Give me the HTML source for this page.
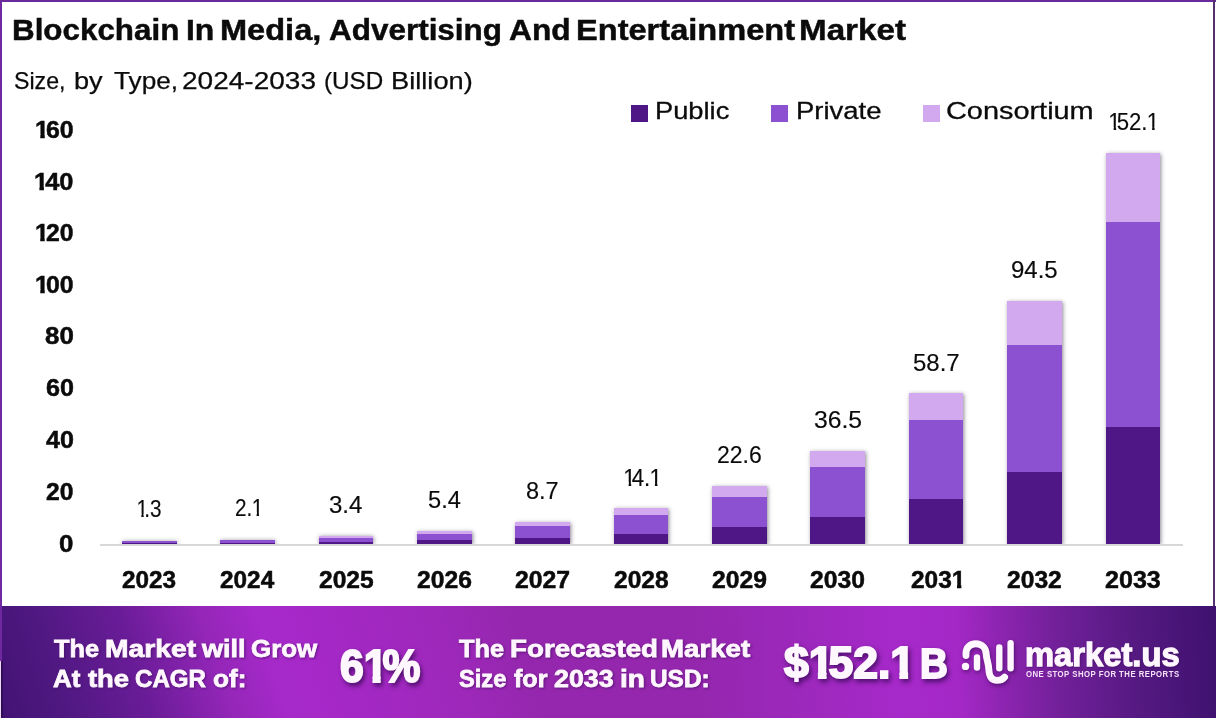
<!DOCTYPE html>
<html><head><meta charset="utf-8"><title>Blockchain In Media, Advertising And Entertainment Market</title>
<style>
html,body{margin:0;padding:0;}
body{width:1216px;height:718px;position:relative;overflow:hidden;background:#fff;font-family:"Liberation Sans",sans-serif;}
.t{position:absolute;white-space:nowrap;transform-origin:0 0;margin:0;padding:0;}
.o{display:inline-block;}
.s1{filter:drop-shadow(1px 1.5px 1.2px rgba(60,10,90,.6));}
.s2{filter:drop-shadow(2.5px 3.5px 2.5px rgba(50,6,80,.75));}
.bl{position:absolute;left:0;top:0;width:2px;height:718px;background:#6f289f;}
.bl2{position:absolute;left:0;top:661px;width:1px;height:57px;background:#f1d6f6;}
.bl3{position:absolute;left:1px;top:661px;width:1.5px;height:57px;background:#2f0e58;}
.bt{position:absolute;left:0;top:0;width:1216px;height:2px;background:#6b2a9b;}
.br{position:absolute;left:1213px;top:0;width:2px;height:606px;background:#553070;}
.bar{position:absolute;box-shadow:0.6px 0.5px 4px rgba(45,35,60,.55);clip-path:inset(-8px -8px 0 -8px);}
.bar i{display:block;width:100%;}
.axis{position:absolute;left:100px;top:544px;width:1082.5px;height:1.7px;background:#d8d8d8;}
.sw{position:absolute;top:105.3px;width:16.5px;height:16.3px;}
.banner{position:absolute;left:0;top:606px;width:608px;height:112px;
 background:linear-gradient(72deg,#431374 3.7px,#4e1880 60.8px,#6a1c98 146.4px,#9426b8 222.4px,#a629c9 274.7px,#a528c7 317.5px,#9f28bc 431.7px,#9527ae 517.2px,#9527ae 582px);}
.banner2{position:absolute;left:608px;top:606px;width:608px;height:112px;
 background:linear-gradient(87deg,#9527ae 0px,#9527ae 92px,#9a28b8 162px,#a629c9 292px,#a428c6 352px,#8a24ae 402px,#72209a 452px,#581a84 522px,#3f1270 608px);}
</style></head><body>
<div class="banner"></div><div class="banner2"></div>
<div class="bl"></div><div class="bt"></div><div class="br"></div><div class="bl2"></div><div class="bl3"></div>
<div class="axis"></div>
<div class="sw" style="left:631.1px;background:#4e1785"></div>
<div class="sw" style="left:771.2px;background:#8b51d1"></div>
<div class="sw" style="left:923px;background:#d2a9ef"></div>
<div class="bar" style="left:122.00px;top:540.80px;width:54.6px;height:3.20px;"><i style="height:0.61px;background:#d2a9ef"></i><i style="height:1.68px;background:#8b51d1"></i><i style="height:0.91px;background:#4e1785"></i></div>
<div class="bar" style="left:220.35px;top:539.60px;width:54.6px;height:4.40px;"><i style="height:0.84px;background:#d2a9ef"></i><i style="height:2.31px;background:#8b51d1"></i><i style="height:1.25px;background:#4e1785"></i></div>
<div class="bar" style="left:318.70px;top:536.00px;width:54.6px;height:8.00px;"><i style="height:1.52px;background:#d2a9ef"></i><i style="height:4.20px;background:#8b51d1"></i><i style="height:2.28px;background:#4e1785"></i></div>
<div class="bar" style="left:417.05px;top:531.20px;width:54.6px;height:12.80px;"><i style="height:2.43px;background:#d2a9ef"></i><i style="height:6.72px;background:#8b51d1"></i><i style="height:3.65px;background:#4e1785"></i></div>
<div class="bar" style="left:515.40px;top:522.30px;width:54.6px;height:21.70px;"><i style="height:4.20px;background:#d2a9ef"></i><i style="height:11.40px;background:#8b51d1"></i><i style="height:6.10px;background:#4e1785"></i></div>
<div class="bar" style="left:613.75px;top:507.80px;width:54.6px;height:36.20px;"><i style="height:7.40px;background:#d2a9ef"></i><i style="height:18.80px;background:#8b51d1"></i><i style="height:10.00px;background:#4e1785"></i></div>
<div class="bar" style="left:712.10px;top:485.90px;width:54.6px;height:58.10px;"><i style="height:11.10px;background:#d2a9ef"></i><i style="height:30.00px;background:#8b51d1"></i><i style="height:17.00px;background:#4e1785"></i></div>
<div class="bar" style="left:810.45px;top:450.80px;width:54.6px;height:93.20px;"><i style="height:15.80px;background:#d2a9ef"></i><i style="height:50.60px;background:#8b51d1"></i><i style="height:26.80px;background:#4e1785"></i></div>
<div class="bar" style="left:908.80px;top:393.20px;width:54.6px;height:150.80px;"><i style="height:26.40px;background:#d2a9ef"></i><i style="height:79.40px;background:#8b51d1"></i><i style="height:45.00px;background:#4e1785"></i></div>
<div class="bar" style="left:1007.15px;top:301.30px;width:54.6px;height:242.70px;"><i style="height:43.80px;background:#d2a9ef"></i><i style="height:126.70px;background:#8b51d1"></i><i style="height:72.20px;background:#4e1785"></i></div>
<div class="bar" style="left:1105.50px;top:153.30px;width:54.6px;height:390.70px;"><i style="height:69.00px;background:#d2a9ef"></i><i style="height:205.00px;background:#8b51d1"></i><i style="height:116.70px;background:#4e1785"></i></div>
<svg style="position:absolute;left:0;top:0;filter:drop-shadow(1.5px 2.5px 2px rgba(55,8,85,.65));" width="1216" height="718" viewBox="0 0 1216 718">
<g fill="none" stroke="#fff7fe" stroke-width="6.9" stroke-linecap="round" stroke-linejoin="round">
<path d="M966 655.5 L966 653.5 C966 640.4 985.7 640.4 986.2 654 C986.5 660 988.6 663 988.8 669 C989.1 677 992 680.4 997 680.4 C1000.5 680.4 1003 679.3 1004.6 677.2"/>
<path d="M977 657.5 L977 667.5" stroke-width="6.4"/>
<path d="M999.3 647.5 L999.3 668.3" stroke-width="6.4"/>
<path d="M1010.6 643.3 L1010.6 668.3" stroke-width="6.4"/>
</g>
<circle cx="965.5" cy="666.4" r="3.7" fill="#fff7fe"/>
</svg>
<div class="t" style="left:11.83px;top:15.94px;font-size:28.57px;line-height:28.57px;font-weight:700;color:#0b0b0b;transform:scaleX(1.0981);-webkit-text-stroke:0.45px currentColor;">Blockchain</div>
<div class="t" style="left:185.60px;top:15.64px;font-size:28.57px;line-height:28.57px;font-weight:700;color:#0b0b0b;transform:scaleX(1.1173);-webkit-text-stroke:0.45px currentColor;">In</div>
<div class="t" style="left:219.80px;top:15.64px;font-size:28.57px;line-height:28.57px;font-weight:700;color:#0b0b0b;transform:scaleX(1.1396);-webkit-text-stroke:0.45px currentColor;">Media,</div>
<div class="t" style="left:329.20px;top:15.73px;font-size:28.57px;line-height:28.57px;font-weight:700;color:#0b0b0b;transform:scaleX(1.1012);-webkit-text-stroke:0.45px currentColor;">Advertising</div>
<div class="t" style="left:508.94px;top:15.83px;font-size:28.57px;line-height:28.57px;font-weight:700;color:#0b0b0b;transform:scaleX(1.1108);-webkit-text-stroke:0.45px currentColor;">And</div>
<div class="t" style="left:575.99px;top:15.64px;font-size:28.57px;line-height:28.57px;font-weight:700;color:#0b0b0b;transform:scaleX(1.1410);-webkit-text-stroke:0.45px currentColor;">Entertainment</div>
<div class="t" style="left:799.37px;top:15.94px;font-size:28.57px;line-height:28.57px;font-weight:700;color:#0b0b0b;transform:scaleX(1.1623);-webkit-text-stroke:0.45px currentColor;">Market</div>
<div class="t" style="left:14.18px;top:68.68px;font-size:24.50px;line-height:24.50px;font-weight:400;color:#0b0b0b;transform:scaleX(0.9455);-webkit-text-stroke:0.25px currentColor;">Size,</div>
<div class="t" style="left:73.92px;top:68.63px;font-size:24.50px;line-height:24.50px;font-weight:400;color:#0b0b0b;transform:scaleX(1.1074);-webkit-text-stroke:0.25px currentColor;">by</div>
<div class="t" style="left:113.65px;top:68.98px;font-size:24.50px;line-height:24.50px;font-weight:400;color:#0b0b0b;transform:scaleX(1.0693);-webkit-text-stroke:0.25px currentColor;">Type,</div>
<div class="t" style="left:182.04px;top:68.58px;font-size:24.50px;line-height:24.50px;font-weight:400;color:#0b0b0b;transform:scaleX(1.1436);-webkit-text-stroke:0.25px currentColor;">2024-2033</div>
<div class="t" style="left:324.09px;top:68.58px;font-size:24.50px;line-height:24.50px;font-weight:400;color:#0b0b0b;transform:scaleX(0.9882);-webkit-text-stroke:0.25px currentColor;">(USD</div>
<div class="t" style="left:391.04px;top:68.58px;font-size:24.50px;line-height:24.50px;font-weight:400;color:#0b0b0b;transform:scaleX(1.1125);-webkit-text-stroke:0.25px currentColor;">Billion)</div>
<div class="t" style="left:34.88px;top:118.00px;font-size:24.75px;line-height:24.75px;font-weight:700;color:#0b0b0b;transform:scaleX(1.0050);-webkit-text-stroke:0.5px currentColor;"><span class="o" style="clip-path:polygon(0 0,0.6em 0,0.6em 0.6536em,0.3908em 0.6536em,0.3908em 1.1em,0.2132em 1.1em,0.2132em 0.6536em,0 0.6536em);margin:0 -0.115em 0 0em">1</span>60</div>
<div class="t" style="left:34.02px;top:170.30px;font-size:24.75px;line-height:24.75px;font-weight:700;color:#0b0b0b;transform:scaleX(1.0261);-webkit-text-stroke:0.5px currentColor;"><span class="o" style="clip-path:polygon(0 0,0.6em 0,0.6em 0.6536em,0.3908em 0.6536em,0.3908em 1.1em,0.2132em 1.1em,0.2132em 0.6536em,0 0.6536em);margin:0 -0.115em 0 0em">1</span>40</div>
<div class="t" style="left:35.13px;top:221.04px;font-size:24.75px;line-height:24.75px;font-weight:700;color:#0b0b0b;transform:scaleX(1.0002);-webkit-text-stroke:0.5px currentColor;"><span class="o" style="clip-path:polygon(0 0,0.6em 0,0.6em 0.6536em,0.3908em 0.6536em,0.3908em 1.1em,0.2132em 1.1em,0.2132em 0.6536em,0 0.6536em);margin:0 -0.115em 0 0em">1</span>20</div>
<div class="t" style="left:34.88px;top:273.20px;font-size:24.75px;line-height:24.75px;font-weight:700;color:#0b0b0b;transform:scaleX(1.0050);-webkit-text-stroke:0.5px currentColor;"><span class="o" style="clip-path:polygon(0 0,0.6em 0,0.6em 0.6536em,0.3908em 0.6536em,0.3908em 1.1em,0.2132em 1.1em,0.2132em 0.6536em,0 0.6536em);margin:0 -0.115em 0 0em">1</span>00</div>
<div class="t" style="left:45.07px;top:324.29px;font-size:24.75px;line-height:24.75px;font-weight:700;color:#0b0b0b;transform:scaleX(1.0481);-webkit-text-stroke:0.5px currentColor;">80</div>
<div class="t" style="left:45.88px;top:375.95px;font-size:24.75px;line-height:24.75px;font-weight:700;color:#0b0b0b;transform:scaleX(1.0167);-webkit-text-stroke:0.5px currentColor;">60</div>
<div class="t" style="left:45.94px;top:427.90px;font-size:24.75px;line-height:24.75px;font-weight:700;color:#0b0b0b;transform:scaleX(1.0148);-webkit-text-stroke:0.5px currentColor;">40</div>
<div class="t" style="left:45.78px;top:479.55px;font-size:24.75px;line-height:24.75px;font-weight:700;color:#0b0b0b;transform:scaleX(0.9981);-webkit-text-stroke:0.5px currentColor;">20</div>
<div class="t" style="left:59.24px;top:531.71px;font-size:24.75px;line-height:24.75px;font-weight:700;color:#0b0b0b;transform:scaleX(1.0459);-webkit-text-stroke:0.5px currentColor;">0</div>
<div class="t" style="left:655.40px;top:99.41px;font-size:24.14px;line-height:24.14px;font-weight:400;color:#0b0b0b;transform:scaleX(1.1306);-webkit-text-stroke:0.3px currentColor;">Public</div>
<div class="t" style="left:795.71px;top:99.06px;font-size:24.14px;line-height:24.14px;font-weight:400;color:#0b0b0b;transform:scaleX(1.1391);-webkit-text-stroke:0.3px currentColor;">Private</div>
<div class="t" style="left:945.63px;top:99.41px;font-size:24.14px;line-height:24.14px;font-weight:400;color:#0b0b0b;transform:scaleX(1.1972);-webkit-text-stroke:0.3px currentColor;">Consortium</div>
<div class="t" style="left:136.90px;top:497.20px;font-size:24.01px;line-height:24.01px;font-weight:400;color:#0b0b0b;transform:scaleX(0.8617);-webkit-text-stroke:0.15px currentColor;"><span class="o" style="clip-path:polygon(0 0,0.6em 0,0.6em 0.6854em,0.3533em 0.6854em,0.3533em 1.1em,0.2380em 1.1em,0.2380em 0.6854em,0 0.6854em);margin:0 -0.18em 0 -0.03em">1</span>.3</div>
<div class="t" style="left:122.18px;top:567.62px;font-size:24.43px;line-height:24.43px;font-weight:700;color:#0b0b0b;transform:scaleX(0.9958);-webkit-text-stroke:0.5px currentColor;">2023</div>
<div class="t" style="left:234.79px;top:495.60px;font-size:24.01px;line-height:24.01px;font-weight:400;color:#0b0b0b;transform:scaleX(0.8631);-webkit-text-stroke:0.15px currentColor;">2.<span class="o" style="clip-path:polygon(0 0,0.6em 0,0.6em 0.6854em,0.3533em 0.6854em,0.3533em 1.1em,0.2380em 1.1em,0.2380em 0.6854em,0 0.6854em);margin:0 -0.18em 0 -0.03em">1</span></div>
<div class="t" style="left:220.06px;top:567.92px;font-size:24.43px;line-height:24.43px;font-weight:700;color:#0b0b0b;transform:scaleX(0.9971);-webkit-text-stroke:0.5px currentColor;">2024</div>
<div class="t" style="left:328.79px;top:492.60px;font-size:24.01px;line-height:24.01px;font-weight:400;color:#0b0b0b;transform:scaleX(1.0018);-webkit-text-stroke:0.15px currentColor;">3.4</div>
<div class="t" style="left:318.98px;top:567.62px;font-size:24.43px;line-height:24.43px;font-weight:700;color:#0b0b0b;transform:scaleX(1.0076);-webkit-text-stroke:0.5px currentColor;">2025</div>
<div class="t" style="left:427.97px;top:487.80px;font-size:24.01px;line-height:24.01px;font-weight:400;color:#0b0b0b;transform:scaleX(0.9867);-webkit-text-stroke:0.15px currentColor;">5.4</div>
<div class="t" style="left:416.68px;top:567.62px;font-size:24.43px;line-height:24.43px;font-weight:700;color:#0b0b0b;transform:scaleX(1.0105);-webkit-text-stroke:0.5px currentColor;">2026</div>
<div class="t" style="left:526.47px;top:478.60px;font-size:24.01px;line-height:24.01px;font-weight:400;color:#0b0b0b;transform:scaleX(0.9795);-webkit-text-stroke:0.15px currentColor;">8.7</div>
<div class="t" style="left:514.95px;top:567.51px;font-size:24.43px;line-height:24.43px;font-weight:700;color:#0b0b0b;transform:scaleX(1.0142);-webkit-text-stroke:0.5px currentColor;">2027</div>
<div class="t" style="left:623.60px;top:465.70px;font-size:24.01px;line-height:24.01px;font-weight:400;color:#0b0b0b;transform:scaleX(0.9267);-webkit-text-stroke:0.15px currentColor;"><span class="o" style="clip-path:polygon(0 0,0.6em 0,0.6em 0.6854em,0.3533em 0.6854em,0.3533em 1.1em,0.2380em 1.1em,0.2380em 0.6854em,0 0.6854em);margin:0 -0.18em 0 -0.03em">1</span>4.<span class="o" style="clip-path:polygon(0 0,0.6em 0,0.6em 0.6854em,0.3533em 0.6854em,0.3533em 1.1em,0.2380em 1.1em,0.2380em 0.6854em,0 0.6854em);margin:0 -0.18em 0 -0.03em">1</span></div>
<div class="t" style="left:613.64px;top:567.92px;font-size:24.43px;line-height:24.43px;font-weight:700;color:#0b0b0b;transform:scaleX(1.0070);-webkit-text-stroke:0.5px currentColor;">2028</div>
<div class="t" style="left:716.65px;top:442.60px;font-size:24.01px;line-height:24.01px;font-weight:400;color:#0b0b0b;transform:scaleX(0.9594);-webkit-text-stroke:0.15px currentColor;">22.6</div>
<div class="t" style="left:711.80px;top:567.81px;font-size:24.43px;line-height:24.43px;font-weight:700;color:#0b0b0b;transform:scaleX(1.0121);-webkit-text-stroke:0.5px currentColor;">2029</div>
<div class="t" style="left:813.99px;top:408.00px;font-size:24.01px;line-height:24.01px;font-weight:400;color:#0b0b0b;transform:scaleX(1.0300);-webkit-text-stroke:0.15px currentColor;">36.5</div>
<div class="t" style="left:810.48px;top:567.62px;font-size:24.43px;line-height:24.43px;font-weight:700;color:#0b0b0b;transform:scaleX(1.0118);-webkit-text-stroke:0.5px currentColor;">2030</div>
<div class="t" style="left:912.75px;top:351.00px;font-size:24.01px;line-height:24.01px;font-weight:400;color:#0b0b0b;transform:scaleX(0.9988);-webkit-text-stroke:0.15px currentColor;">58.7</div>
<div class="t" style="left:911.04px;top:567.92px;font-size:24.43px;line-height:24.43px;font-weight:700;color:#0b0b0b;transform:scaleX(1.0008);-webkit-text-stroke:0.5px currentColor;">203<span class="o" style="clip-path:polygon(0 0,0.6em 0,0.6em 0.6524em,0.3911em 0.6524em,0.3911em 1.1em,0.2129em 1.1em,0.2129em 0.6524em,0 0.6524em);margin:0 -0.115em 0 0em">1</span></div>
<div class="t" style="left:1011.12px;top:258.40px;font-size:24.01px;line-height:24.01px;font-weight:400;color:#0b0b0b;transform:scaleX(0.9997);-webkit-text-stroke:0.15px currentColor;">94.5</div>
<div class="t" style="left:1006.96px;top:567.51px;font-size:24.43px;line-height:24.43px;font-weight:700;color:#0b0b0b;transform:scaleX(1.0091);-webkit-text-stroke:0.5px currentColor;">2032</div>
<div class="t" style="left:1108.71px;top:110.20px;font-size:24.01px;line-height:24.01px;font-weight:400;color:#0b0b0b;transform:scaleX(0.9233);-webkit-text-stroke:0.15px currentColor;"><span class="o" style="clip-path:polygon(0 0,0.6em 0,0.6em 0.6854em,0.3533em 0.6854em,0.3533em 1.1em,0.2380em 1.1em,0.2380em 0.6854em,0 0.6854em);margin:0 -0.18em 0 -0.03em">1</span>52.<span class="o" style="clip-path:polygon(0 0,0.6em 0,0.6em 0.6854em,0.3533em 0.6854em,0.3533em 1.1em,0.2380em 1.1em,0.2380em 0.6854em,0 0.6854em);margin:0 -0.18em 0 -0.03em">1</span></div>
<div class="t" style="left:1105.20px;top:567.92px;font-size:24.43px;line-height:24.43px;font-weight:700;color:#0b0b0b;transform:scaleX(1.0273);-webkit-text-stroke:0.5px currentColor;">2033</div>
<div class="t s1" style="left:54.29px;top:637.13px;font-size:24.57px;line-height:24.57px;font-weight:700;color:#fff7fe;transform:scaleX(1.0316);-webkit-text-stroke:0.8px currentColor;">The</div>
<div class="t s1" style="left:104.58px;top:637.20px;font-size:24.57px;line-height:24.57px;font-weight:700;color:#fff7fe;transform:scaleX(1.1518);-webkit-text-stroke:0.8px currentColor;">Market</div>
<div class="t s1" style="left:201.54px;top:636.93px;font-size:24.57px;line-height:24.57px;font-weight:700;color:#fff7fe;transform:scaleX(1.1029);-webkit-text-stroke:0.8px currentColor;">will</div>
<div class="t s1" style="left:251.23px;top:637.47px;font-size:24.57px;line-height:24.57px;font-weight:700;color:#fff7fe;transform:scaleX(1.0536);-webkit-text-stroke:0.8px currentColor;">Grow</div>
<div class="t s1" style="left:53.13px;top:667.03px;font-size:24.14px;line-height:24.14px;font-weight:700;color:#fff7fe;transform:scaleX(1.0732);-webkit-text-stroke:0.8px currentColor;">At</div>
<div class="t s1" style="left:88.35px;top:667.20px;font-size:24.14px;line-height:24.14px;font-weight:700;color:#fff7fe;transform:scaleX(1.1353);-webkit-text-stroke:0.8px currentColor;">the</div>
<div class="t s1" style="left:135.26px;top:666.87px;font-size:24.14px;line-height:24.14px;font-weight:700;color:#fff7fe;transform:scaleX(0.9988);-webkit-text-stroke:0.8px currentColor;">CAGR</div>
<div class="t s1" style="left:213.41px;top:667.03px;font-size:24.14px;line-height:24.14px;font-weight:700;color:#fff7fe;transform:scaleX(1.0852);-webkit-text-stroke:0.8px currentColor;">of:</div>
<div class="t s2" style="left:339.98px;top:644.42px;font-size:45.57px;line-height:45.57px;font-weight:700;color:#fff7fe;transform:scaleX(0.9360);-webkit-text-stroke:2.0px currentColor;">6<span class="o" style="clip-path:polygon(0 0,0.6em 0,0.6em 0.6787em,0.3980em 0.6787em,0.3980em 1.1em,0.2060em 1.1em,0.2060em 0.6787em,0 0.6787em);margin:0 -0.115em 0 0em">1</span>%</div>
<div class="t s1" style="left:458.96px;top:636.93px;font-size:24.57px;line-height:24.57px;font-weight:700;color:#fff7fe;transform:scaleX(1.0314);-webkit-text-stroke:0.8px currentColor;">The</div>
<div class="t s1" style="left:510.15px;top:637.13px;font-size:24.57px;line-height:24.57px;font-weight:700;color:#fff7fe;transform:scaleX(1.1294);-webkit-text-stroke:0.8px currentColor;">Forecasted</div>
<div class="t s1" style="left:660.85px;top:636.93px;font-size:24.57px;line-height:24.57px;font-weight:700;color:#fff7fe;transform:scaleX(1.1269);-webkit-text-stroke:0.8px currentColor;">Market</div>
<div class="t s1" style="left:458.84px;top:667.03px;font-size:24.14px;line-height:24.14px;font-weight:700;color:#fff7fe;transform:scaleX(0.9815);-webkit-text-stroke:0.8px currentColor;">Size</div>
<div class="t s1" style="left:514.29px;top:666.87px;font-size:24.14px;line-height:24.14px;font-weight:700;color:#fff7fe;transform:scaleX(1.0406);-webkit-text-stroke:0.8px currentColor;">for</div>
<div class="t s1" style="left:553.93px;top:667.03px;font-size:24.14px;line-height:24.14px;font-weight:700;color:#fff7fe;transform:scaleX(1.1115);-webkit-text-stroke:0.8px currentColor;">2033</div>
<div class="t s1" style="left:619.71px;top:667.20px;font-size:24.14px;line-height:24.14px;font-weight:700;color:#fff7fe;transform:scaleX(1.1648);-webkit-text-stroke:0.8px currentColor;">in</div>
<div class="t s1" style="left:650.43px;top:667.03px;font-size:24.14px;line-height:24.14px;font-weight:700;color:#fff7fe;transform:scaleX(1.0111);-webkit-text-stroke:0.8px currentColor;">USD:</div>
<div class="t s2" style="left:784.00px;top:641.72px;font-size:43.57px;line-height:43.57px;font-weight:700;color:#fff7fe;transform:scaleX(1.0219);-webkit-text-stroke:2.0px currentColor;">$<span class="o" style="clip-path:polygon(0 0,0.6em 0,0.6em 0.6756em,0.3993em 0.6756em,0.3993em 1.1em,0.2047em 1.1em,0.2047em 0.6756em,0 0.6756em);margin:0 -0.115em 0 0em">1</span>52.<span class="o" style="clip-path:polygon(0 0,0.6em 0,0.6em 0.6756em,0.3993em 0.6756em,0.3993em 1.1em,0.2047em 1.1em,0.2047em 0.6756em,0 0.6756em);margin:0 -0.115em 0 0em">1</span></div>
<div class="t s2" style="left:919.52px;top:642.89px;font-size:41.71px;line-height:41.71px;font-weight:700;color:#fff7fe;transform:scaleX(0.9238);-webkit-text-stroke:2.0px currentColor;">B</div>
<div class="t s1" style="left:1024.96px;top:637.86px;font-size:33.93px;line-height:33.93px;font-weight:700;color:#fff7fe;transform:scaleX(0.9646);-webkit-text-stroke:1.3px currentColor;">market.us</div>
<div class="t ls" style="left:1025.90px;top:671.02px;font-size:8.18px;line-height:8.18px;font-weight:700;color:#f6e2f8;transform:scaleX(0.9500);letter-spacing:0.5px;">ONE STOP SHOP FOR THE REPORTS</div>
</body></html>
